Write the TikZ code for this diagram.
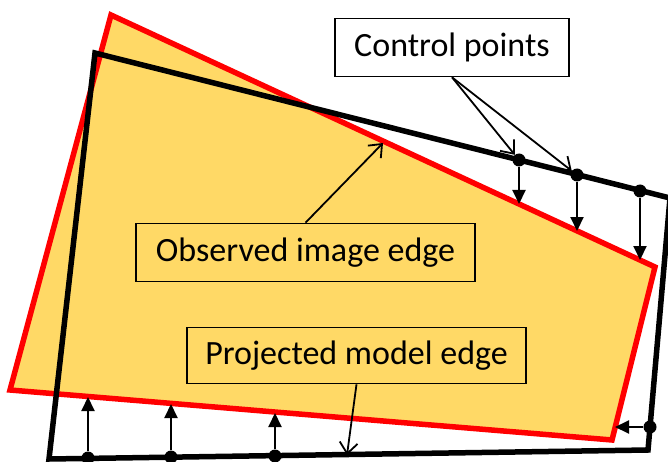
\documentclass[tikz,border=0pt]{standalone}
\usepackage{fontspec}
\setmainfont{Carlito}
\usetikzlibrary{arrows.meta}
\definecolor{imgfill}{RGB}{255,217,102}

\begin{document}
\begin{tikzpicture}[
  x=1pt, y=-1pt,
  font=\fontsize{34}{40}\selectfont,
  callout/.style={draw, line width=1.6pt, rectangle, minimum height=58pt, align=center},
  imgedge/.style={draw=red, line width=5.5pt, fill=imgfill},
  modeledge/.style={draw=black, line width=5.5pt},
  ctrl/.style={circle, fill=black, inner sep=0pt, minimum size=13pt},
  push/.style={-{Triangle[length=14pt,width=13pt]}, line width=2pt},
  point/.style={-{Straight Barb[length=11pt,width=18pt]}, line width=1.8pt},
]
\useasboundingbox (0,0) rectangle (668,462);

% observed image edge
\coordinate (r1) at (111,15);
\coordinate (r2) at (655,267);
\coordinate (r3) at (612,440);
\coordinate (r4) at (10,390);
\filldraw[imgedge] (r1) -- (r2) -- (r3) -- (r4) -- cycle;

% projected model edge
\coordinate (b1) at (95,53);
\coordinate (b2) at (670,198);
\coordinate (b3) at (648,450);
\coordinate (b4) at (49,459);
\draw[modeledge] (b1) -- (b2) -- (b3) -- (b4) -- cycle;

% control points on the model edge
\node[ctrl] (p1) at (519,160) {};
\node[ctrl] (p2) at (577,175) {};
\node[ctrl] (p3) at (640,191) {};
\node[ctrl] (p4) at (650,427) {};
\node[ctrl] (p5) at (88,458) {};
\node[ctrl] (p6) at (171,457) {};
\node[ctrl] (p7) at (275,456) {};

% matching points on the image edge
\coordinate (m1) at (519,204);
\coordinate (m2) at (577,231);
\coordinate (m3) at (640,260);
\coordinate (m4) at (615,427);
\coordinate (m5) at (88,397);
\coordinate (m6) at (171,404);
\coordinate (m7) at (275,413);

\foreach \i in {1,...,7}
  \draw[push] (p\i) -- (m\i);

% labels
\node[callout, fill=white, minimum width=234pt] (cpts) at (452,47.5) {Control points};
\node[callout, minimum width=339pt] (obs) at (305.5,252.5) {Observed image edge};
\node[callout, minimum width=339pt, minimum height=56pt] (proj) at (356.5,355.5) {Projected model edge};

\coordinate (onimg) at (383,143);
\coordinate (onmodel) at (347,455);

\draw[point] (cpts.south) -- (p1);
\draw[point] (cpts.south) -- (p2);
\draw[point] (obs.north) -- (onimg);
\draw[point] (proj.south) -- (onmodel);
\end{tikzpicture}
\end{document}
